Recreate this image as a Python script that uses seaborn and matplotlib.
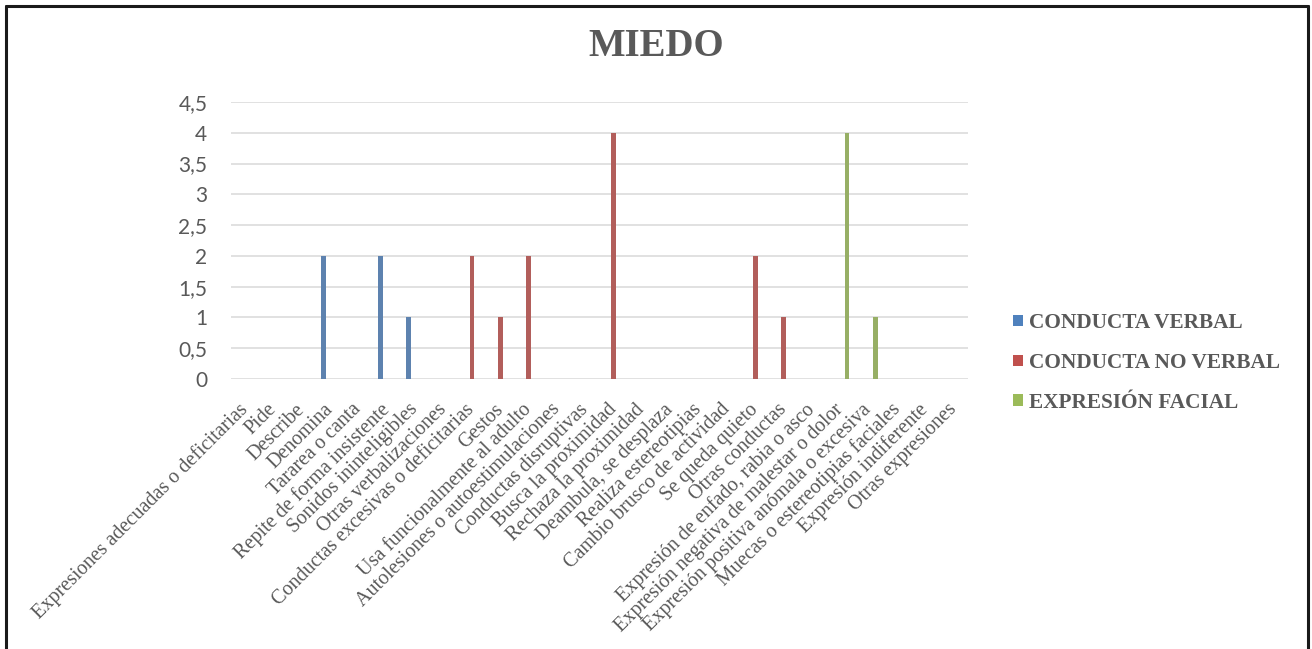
import matplotlib
matplotlib.use("Agg")
import matplotlib.pyplot as plt
from matplotlib.lines import Line2D
from matplotlib.patches import Patch
from matplotlib.ticker import FuncFormatter
import seaborn as sns
import pandas as pd

# Categories observed for the emotion "MIEDO"
categorias = [
    "Expresiones adecuadas o deficitarias",
    "Pide",
    "Describe",
    "Denomina",
    "Tararea o canta",
    "Repite de forma insistente",
    "Sonidos ininteligibles",
    "Otras verbalizaciones",
    "Conductas excesivas o deficitarias",
    "Gestos",
    "Usa funcionalmente al adulto",
    "Autolesiones o autoestimulaciones",
    "Conductas disruptivas",
    "Busca la proximidad",
    "Rechaza la proximidad",
    "Deambula, se desplaza",
    "Realiza estereotipias",
    "Cambio brusco de actividad",
    "Se queda quieto",
    "Otras conductas",
    "Expresión de enfado, rabia o asco",
    "Expresión negativa de malestar o dolor",
    "Expresión positiva anómala o excesiva",
    "Muecas o estereotipias faciales",
    "Expresión indiferente",
    "Otras expresiones",
]

series = ["CONDUCTA VERBAL", "CONDUCTA NO VERBAL", "EXPRESIÓN FACIAL"]

conducta_verbal = [0, 0, 0, 2, 0, 2, 1, 0, 0, 0, 0, 0, 0,
                   0, 0, 0, 0, 0, 0, 0, 0, 0, 0, 0, 0, 0]
conducta_no_verbal = [0, 0, 0, 0, 0, 0, 0, 0, 2, 1, 2, 0, 0,
                      4, 0, 0, 0, 0, 2, 1, 0, 0, 0, 0, 0, 0]
expresion_facial = [0, 0, 0, 0, 0, 0, 0, 0, 0, 0, 0, 0, 0,
                    0, 0, 0, 0, 0, 0, 0, 0, 4, 1, 0, 0, 0]

y_ticks = [0, 0.5, 1, 1.5, 2, 2.5, 3, 3.5, 4, 4.5]

colores = ["#4F81BD", "#C0504D", "#9BBB59"]
gris_texto = "#595959"

# Long-form table for seaborn
valores = [conducta_verbal, conducta_no_verbal, expresion_facial]
filas = []
for serie, vals in zip(series, valores):
    for cat, v in zip(categorias, vals):
        filas.append({"categoria": cat, "serie": serie, "valor": v})
df = pd.DataFrame(filas)

sns.set_style("white")
serif = ["Liberation Serif", "DejaVu Serif"]
sans = ["Lato", "DejaVu Sans"]

fig = plt.figure(figsize=(13.12, 6.49), dpi=100)
ax = fig.add_axes([231 / 1312, 1 - 379 / 649, 737 / 1312, 277 / 649])

sns.barplot(
    data=df, x="categoria", y="valor", hue="serie",
    order=categorias, hue_order=series, palette=colores,
    width=0.69, gap=0.3, linewidth=0, errorbar=None, ax=ax,
)

ax.set_ylim(0, 4.5)
ax.set_xlim(-0.5, len(categorias) - 0.5)
ax.set_yticks(y_ticks)
ax.yaxis.set_major_formatter(FuncFormatter(lambda v, _: f"{v:g}".replace(".", ",")))
ax.grid(axis="y", color="#D9D9D9", linewidth=1.1)
ax.set_axisbelow(True)
for s in ax.spines.values():
    s.set_visible(False)
ax.set_xlabel("")
ax.set_ylabel("")
ax.tick_params(axis="both", length=0)
ax.tick_params(axis="y", pad=17, labelsize=15, labelcolor=gris_texto)
for t in ax.get_yticklabels():
    t.set_family(sans)

ax.set_xticks(range(len(categorias)))
ax.set_xticklabels(categorias, rotation=45, ha="right", va="center",
                   rotation_mode="anchor", family=serif, fontsize=14.5,
                   color=gris_texto)
ax.tick_params(axis="x", pad=20)

# Legend
if ax.get_legend() is not None:
    ax.get_legend().remove()
handles = [Patch(facecolor=c, edgecolor="none") for c in colores]
leg = fig.legend(handles, series, loc="center left",
                 bbox_to_anchor=(994 / 1312, 1 - 363 / 649),
                 frameon=False, handlelength=0.45, handleheight=0.45,
                 handletextpad=0.3, labelspacing=0.93,
                 prop={"family": serif, "weight": "bold", "size": 15.3})
for t in leg.get_texts():
    t.set_color(gris_texto)

fig.text(0.5, 1 - 47 / 649, "MIEDO", ha="center", va="center",
         family=serif, weight="bold", fontsize=28, color=gris_texto)

# Outer frame
borde = dict(color="#1a1a1a", linewidth=2.2, transform=fig.transFigure)
x0, x1 = 6 / 1312, 1308 / 1312
ytop = 1 - 6 / 649
fig.add_artist(Line2D([x0, x0], [0, ytop], **borde))
fig.add_artist(Line2D([x1, x1], [0, ytop], **borde))
fig.add_artist(Line2D([x0, x1], [ytop, ytop], **borde))

fig.savefig("out.png", dpi=100)
